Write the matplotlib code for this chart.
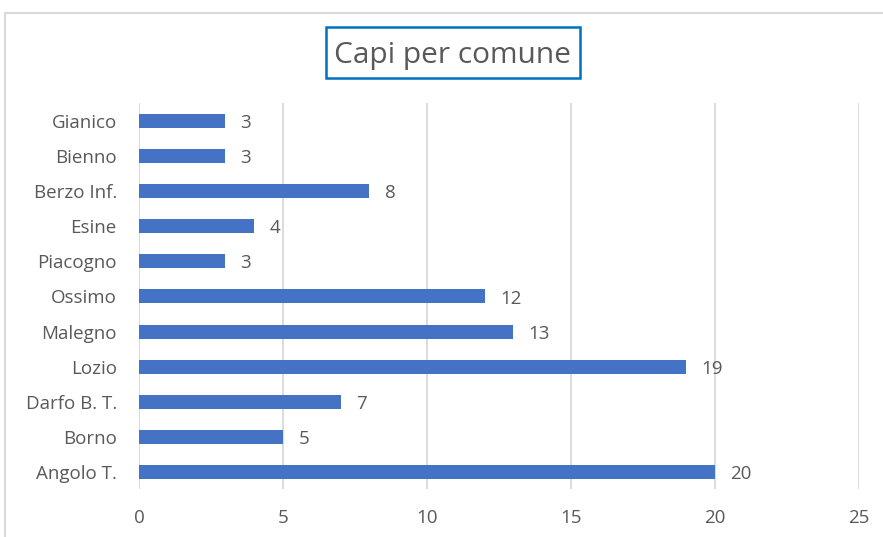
import matplotlib
matplotlib.use("Agg")
import matplotlib.pyplot as plt
from matplotlib.patches import Rectangle

comuni = ["Angolo T.", "Borno", "Darfo B. T.", "Lozio", "Malegno", "Ossimo",
          "Piacogno", "Esine", "Berzo Inf.", "Bienno", "Gianico"]
capi = [20, 5, 7, 19, 13, 12, 3, 4, 8, 3, 3]
x_ticks = [0, 5, 10, 15, 20, 25]

BAR = "#4472C4"
TXT = "#595959"
GRID = "#D9D9D9"

plt.rcParams["font.family"] = ["Open Sans", "DejaVu Sans"]

W, H = 883, 537
fig = plt.figure(figsize=(W / 100, H / 100), dpi=100)
ax = fig.add_axes([0.1574, 0.0885, 0.8154, 0.7188])

# chart area border
fig.patches.append(Rectangle((5 / W, -0.05), 1.0, 1 - 13 / H + 0.05,
                             transform=fig.transFigure, fill=False,
                             edgecolor=GRID, linewidth=1.5, zorder=0))

y = range(len(comuni))
ax.barh(y, capi, height=0.4, color=BAR, zorder=3)
for yi, v in zip(y, capi):
    ax.annotate(str(v), (v, yi), xytext=(11, -1.5), textcoords="offset points",
                ha="left", va="center", fontsize=13.5, color=TXT)

ax.set_xlim(0, 25)
ax.set_ylim(-0.5, len(comuni) - 0.5)
ax.set_xticks(x_ticks)
ax.set_xticklabels([str(t) for t in x_ticks])
ax.set_yticks(list(y))
ax.set_yticklabels(comuni)
ax.tick_params(axis="both", length=0, labelsize=13.5, colors=TXT)
ax.tick_params(axis="x", pad=14)
ax.tick_params(axis="y", pad=16)
ax.grid(axis="x", color=GRID, linewidth=1.3, zorder=0)
for s in ax.spines.values():
    s.set_visible(False)

# title with framed box
fig.patches.append(Rectangle((326 / W, 1 - 78 / H), 254 / W, 51 / H,
                             transform=fig.transFigure, facecolor="white",
                             edgecolor="#0070C0", linewidth=1.8, zorder=5))
fig.text(453 / W, 1 - 55 / H, "Capi per comune", ha="center", va="center",
         fontsize=21.5, color=TXT, zorder=6)

fig.savefig("out.png", dpi=100)
